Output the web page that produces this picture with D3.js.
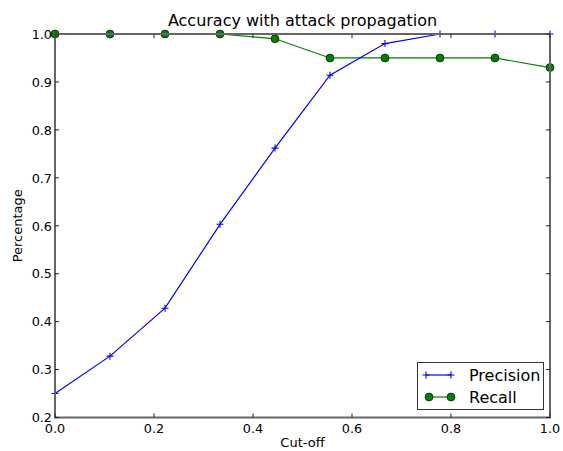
<!DOCTYPE html>
<html>
<head>
<meta charset="utf-8">
<script src="https://cdn.jsdelivr.net/npm/d3@7"></script>
<style>
  body { margin: 0; background: #fff; }
  svg { font-family: "DejaVu Sans", sans-serif; }
</style>
</head>
<body>
<svg id="chart" width="563" height="451"></svg>
<script>
// data
var cutoffs = [0, 1/9, 2/9, 3/9, 4/9, 5/9, 6/9, 7/9, 8/9, 1];
var precision = [0.25, 0.328, 0.428, 0.603, 0.762, 0.914, 0.98, 1.0, 1.0, 1.0];
var recall = [1.0, 1.0, 1.0, 1.0, 0.99, 0.95, 0.95, 0.95, 0.95, 0.93];
var xTicks = [0, 0.2, 0.4, 0.6, 0.8, 1.0];
var yTicks = [0.2, 0.3, 0.4, 0.5, 0.6, 0.7, 0.8, 0.9, 1.0];

var svg = d3.select("#chart");
var pLeft = 55, pRight = 550, pTop = 34, pBottom = 417.5;

var x = d3.scaleLinear().domain([0, 1]).range([pLeft, pRight]);
var y = d3.scaleLinear().domain([0.2, 1.0]).range([pBottom, pTop]);

// title
svg.append("text")
    .attr("x", (pLeft + pRight) / 2)
    .attr("y", 25.5)
    .attr("text-anchor", "middle")
    .style("font-size", "16px")
    .text("Accuracy with attack propagation");

// series lines
var seriesLine = d3.line().x(function (d, i) { return x(cutoffs[i]); }).y(function (d) { return y(d); });

svg.append("path")
    .datum(recall)
    .attr("d", seriesLine)
    .attr("fill", "none")
    .attr("stroke", "#008000")
    .attr("stroke-width", 1.2);

svg.append("path")
    .datum(precision)
    .attr("d", seriesLine)
    .attr("fill", "none")
    .attr("stroke", "#0000ff")
    .attr("stroke-width", 1.2);

// recall markers
svg.selectAll("circle.rec")
    .data(recall)
    .enter()
    .append("circle")
    .attr("class", "rec")
    .attr("cx", function (d, i) { return x(cutoffs[i]); })
    .attr("cy", function (d) { return y(d); })
    .attr("r", 4)
    .attr("fill", "#008000")
    .attr("stroke", "#000")
    .attr("stroke-width", 0.6);

// precision markers
function plus(g, cx, cy, s) {
    g.append("path")
        .attr("d", "M" + (cx - s) + "," + cy + "H" + (cx + s) + "M" + cx + "," + (cy - s) + "V" + (cy + s))
        .attr("stroke", "#0000ff")
        .attr("stroke-width", 1.1)
        .attr("fill", "none");
}
precision.forEach(function (d, i) {
    plus(svg, x(cutoffs[i]), y(d), 3.5);
});

// frame
svg.append("rect")
    .attr("x", pLeft)
    .attr("y", pTop)
    .attr("width", pRight - pLeft)
    .attr("height", pBottom - pTop)
    .attr("fill", "none")
    .attr("stroke", "#666")
    .attr("stroke-width", 2);

// ticks (inward, all four sides)
var ticks = svg.append("g").attr("stroke", "#222").attr("stroke-width", 1);
xTicks.forEach(function (t) {
    ticks.append("line").attr("x1", x(t)).attr("x2", x(t)).attr("y1", pBottom).attr("y2", pBottom - 4);
    ticks.append("line").attr("x1", x(t)).attr("x2", x(t)).attr("y1", pTop).attr("y2", pTop + 4);
});
yTicks.forEach(function (t) {
    ticks.append("line").attr("x1", pLeft).attr("x2", pLeft + 4).attr("y1", y(t)).attr("y2", y(t));
    ticks.append("line").attr("x1", pRight).attr("x2", pRight - 4).attr("y1", y(t)).attr("y2", y(t));
});

// tick labels
svg.selectAll("text.xt")
    .data(xTicks)
    .enter()
    .append("text")
    .attr("class", "xt")
    .attr("x", function (d) { return x(d); })
    .attr("y", 433)
    .attr("text-anchor", "middle")
    .style("font-size", "12.8px")
    .text(function (d) { return d.toFixed(1); });

svg.selectAll("text.yt")
    .data(yTicks)
    .enter()
    .append("text")
    .attr("class", "yt")
    .attr("x", pLeft - 3)
    .attr("y", function (d) { return y(d) + 4.8; })
    .attr("text-anchor", "end")
    .style("font-size", "12.8px")
    .text(function (d) { return d.toFixed(1); });

// axis titles
svg.append("text")
    .attr("x", (pLeft + pRight) / 2)
    .attr("y", 447)
    .attr("text-anchor", "middle")
    .style("font-size", "13px")
    .text("Cut-off");

svg.append("text")
    .attr("transform", "translate(22," + ((pTop + pBottom) / 2) + ") rotate(-90)")
    .attr("text-anchor", "middle")
    .style("font-size", "13px")
    .text("Percentage");

// legend
var lg = svg.append("g");
lg.append("rect")
    .attr("x", 417.5).attr("y", 362.5)
    .attr("width", 126).attr("height", 47)
    .attr("fill", "#fff")
    .attr("stroke", "#333")
    .attr("stroke-width", 1);

lg.append("line").attr("x1", 426).attr("x2", 451).attr("y1", 375).attr("y2", 375)
    .attr("stroke", "#0000ff").attr("stroke-width", 1.2);
plus(lg, 426, 375, 3.5);
plus(lg, 451, 375, 3.5);
lg.append("text").attr("x", 469).attr("y", 381).style("font-size", "16px").text("Precision");

lg.append("line").attr("x1", 429).attr("x2", 451).attr("y1", 397).attr("y2", 397)
    .attr("stroke", "#008000").attr("stroke-width", 1.2);
[429, 451].forEach(function (cx) {
    lg.append("circle").attr("cx", cx).attr("cy", 397).attr("r", 4)
        .attr("fill", "#008000").attr("stroke", "#000").attr("stroke-width", 0.6);
});
lg.append("text").attr("x", 469).attr("y", 403).style("font-size", "16px").text("Recall");
</script>
</body>
</html>
